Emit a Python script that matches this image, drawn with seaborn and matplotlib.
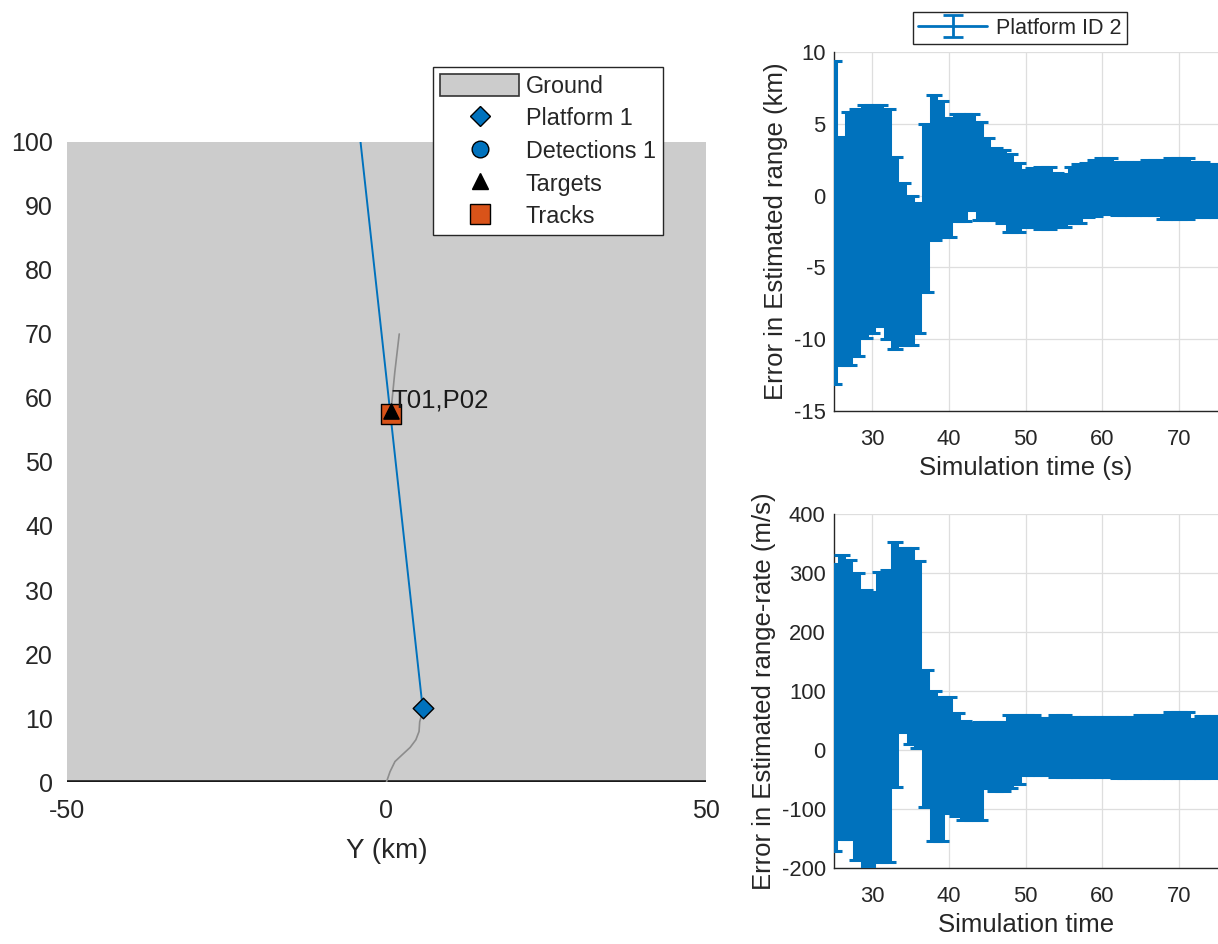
import numpy as np
import pandas as pd
import matplotlib
matplotlib.use("Agg")
import matplotlib.pyplot as plt
import seaborn as sns
from matplotlib.lines import Line2D
from matplotlib.patches import Patch, Rectangle

BLUE = "#0072BD"
ORANGE = "#D95319"
GROUND = "#cccccc"
INK = "#262626"

# theater plot (km), horizontal = Y, vertical = X
platform_track_y = [0.0, 0.55, 1.33, 2.4, 3.7, 4.6, 5.1, 5.2, 5.5, 5.67]
platform_track_x = [0.0, 1.6, 3.2, 4.2, 5.4, 6.6, 7.9, 9.4, 10.5, 11.5]
platform_pos = (5.67, 11.5)
beam_y = [5.67, -4.5]
beam_x = [11.5, 104.0]
target_track_y = [0.7, 1.3, 2.0]
target_track_x = [57.9, 64.0, 70.0]
target_pos = (0.7, 57.9)
track_pos = (0.7, 57.5)
track_label = "T01,P02"

# error plots
sim_time = list(range(25, 76))
range_err_upper = [9.4, 4.1, 5.8, 6.0, 6.3, 6.3, 6.3, 6.0, 2.7, 0.9,
                   0.0, -0.5, 5.0, 7.0, 6.6, 5.4, 5.7, 5.7, 5.7, 5.1,
                   4.0, 3.3, 3.2, 2.9, 2.25, 1.8, 1.9, 2.0, 2.0, 1.6,
                   1.5, 2.0, 2.2, 2.3, 2.5, 2.6, 2.6, 2.35, 2.35, 2.35,
                   2.35, 2.5, 2.5, 2.5, 2.6, 2.6, 2.6, 2.35, 2.35, 2.2,
                   2.2]
range_err_lower = [-13.1, -11.8, -11.8, -11.2, -9.9, -9.6, -9.1, -10.0, -10.7, -10.4,
                   -10.4, -9.6, -6.7, -3.1, -2.9, -2.9, -1.8, -1.8, -1.0, -1.7,
                   -1.7, -1.7, -1.9, -2.5, -2.5, -2.2, -2.2, -2.3, -2.3, -2.2,
                   -2.2, -1.9, -1.9, -1.5, -1.4, -1.25, -1.25, -1.35, -1.35, -1.35,
                   -1.35, -1.35, -1.35, -1.6, -1.6, -1.6, -1.6, -1.5, -1.5, -1.5,
                   -1.5]
rate_err_upper = [315, 330, 322, 300, 272, 268, 302, 305, 352, 342,
                  342, 320, 135, 100, 90, 90, 62, 50, 45, 48,
                  48, 48, 48, 59, 59, 59, 59, 55, 55, 60,
                  60, 56, 56, 56, 56, 56, 56, 56, 56, 56,
                  60, 60, 60, 60, 64, 64, 64, 53, 57, 57,
                  57]
rate_err_lower = [-172, -150, -150, -186, -205, -205, -190, -190, -62, 30,
                  10, 3, -96, -155, -155, -107, -112, -119, -119, -119,
                  -64, -70, -70, -65, -57, -42, -42, -42, -42, -45,
                  -45, -45, -46, -46, -46, -46, -46, -48, -48, -48,
                  -48, -48, -48, -48, -48, -48, -48, -48, -48, -48,
                  -45]

sns.set_style("white")
plt.rcParams['font.family'] = ['Liberation Sans', 'DejaVu Sans']
plt.rcParams['axes.unicode_minus'] = False
plt.rcParams['text.color'] = INK
plt.rcParams['axes.labelcolor'] = INK
plt.rcParams['xtick.color'] = INK
plt.rcParams['ytick.color'] = INK

fig = plt.figure(figsize=(12.18, 9.44), dpi=100)

# ---- theater plot ----
ax = fig.add_axes([0.055, 0.1716, 0.5246, 0.678])
ax.add_patch(Rectangle((-50, 0), 100, 100, facecolor=GROUND, edgecolor="none", zorder=0))
ax.axhline(0, color="#1a1a1a", lw=2.6, zorder=2)

sns.lineplot(x=platform_track_y, y=platform_track_x, sort=False, color="#8c8c8c",
             lw=1.2, ax=ax, zorder=3)
sns.lineplot(x=target_track_y, y=target_track_x, sort=False, color="#8c8c8c",
             lw=1.2, ax=ax, zorder=3)
sns.lineplot(x=beam_y, y=beam_x, sort=False, color=BLUE, lw=1.4, ax=ax, zorder=4)

ax.scatter([platform_pos[0]], [platform_pos[1]], marker="D", s=110, color=BLUE,
           edgecolor="black", linewidth=1.0, zorder=6)
ax.scatter([track_pos[0]], [track_pos[1]], marker="s", s=210, color=ORANGE,
           edgecolor="black", linewidth=1.0, zorder=6)
ax.scatter([target_pos[0]], [target_pos[1]], marker="^", s=120, color="black",
           zorder=7)
ax.annotate(track_label, xy=track_pos, xytext=(0, 5), textcoords="offset points",
            ha="left", va="baseline", fontsize=18.5, color="#1a1a1a", zorder=8)

ax.set_xlim(-50, 50)
ax.set_ylim(0, 100)
ax.set_xticks([-50, 0, 50])
ax.set_yticks(range(0, 101, 10))
ax.tick_params(axis="both", length=0, labelsize=18)
ax.tick_params(axis="y", pad=10)
ax.tick_params(axis="x", pad=12)
for s in ax.spines.values():
    s.set_visible(False)
ax.set_xlabel("Y (km)", fontsize=20, labelpad=11)

handles = [
    Patch(facecolor=GROUND, edgecolor="#333333", linewidth=1.2),
    Line2D([], [], ls="none", marker="D", ms=10, mfc=BLUE, mec="black"),
    Line2D([], [], ls="none", marker="o", ms=12, mfc=BLUE, mec="black"),
    Line2D([], [], ls="none", marker="^", ms=12, mfc="black", mec="black"),
    Line2D([], [], ls="none", marker="s", ms=14, mfc=ORANGE, mec="black"),
]
labels = ["Ground", "Platform 1", "Detections 1", "Targets", "Tracks"]
fig.legend(handles, labels, loc="upper right", bbox_to_anchor=(0.5443, 0.929),
           fontsize=16.8, frameon=True, fancybox=False, framealpha=1,
           facecolor="white", edgecolor="#262626",
           handlelength=3.4, handleheight=1.05, labelspacing=0.38,
           borderpad=0.3, handletextpad=0.28, borderaxespad=0)

# ---- error plots ----
err_df = pd.DataFrame({
    "time": sim_time,
    "rng_hi": range_err_upper, "rng_lo": range_err_lower,
    "rr_hi": rate_err_upper, "rr_lo": rate_err_lower,
})


def error_panel(axe, hi, lo, ylim, step, ylabel, xlabel):
    mid = (err_df[hi] + err_df[lo]) / 2
    half = (err_df[hi] - err_df[lo]) / 2
    axe.errorbar(err_df["time"], mid, yerr=half, color=BLUE, lw=1.5,
                 elinewidth=5.8, capsize=6, capthick=2.2, zorder=3)
    axe.set_xlim(25, 75.1)
    axe.set_ylim(*ylim)
    axe.set_xticks(range(30, 71, 10))
    axe.set_yticks(np.arange(ylim[0], ylim[1] + 1, step))
    axe.grid(True, color="#dedede", lw=0.9)
    axe.set_axisbelow(True)
    for side in ["top", "right"]:
        axe.spines[side].set_visible(False)
    for side in ["left", "bottom"]:
        axe.spines[side].set_color(INK)
        axe.spines[side].set_linewidth(1.0)
    axe.tick_params(direction="in", length=4, labelsize=15.8, pad=6)
    axe.tick_params(axis="x", pad=13)
    axe.set_ylabel(ylabel, fontsize=18.5, labelpad=4)
    axe.set_xlabel(xlabel, fontsize=18.5, labelpad=4)


ax1 = fig.add_axes([0.6847, 0.5646, 0.3153, 0.3803])
error_panel(ax1, "rng_hi", "rng_lo", (-15, 10), 5,
            "Error in Estimated range (km)", "Simulation time (s)")
proxy = ax1.errorbar([np.nan], [np.nan], yerr=[np.nan], color=BLUE, lw=2,
                     elinewidth=2, capsize=7, capthick=2)
ax1.legend([proxy], ["Platform ID 2"], loc="upper center",
           bbox_to_anchor=(0.8374, 0.987), bbox_transform=fig.transFigure,
           fontsize=15.5, frameon=True, fancybox=False, framealpha=1,
           edgecolor="#262626", handlelength=3.2, borderpad=0.25,
           handletextpad=0.4, borderaxespad=0)

ax2 = fig.add_axes([0.6847, 0.0805, 0.3153, 0.375])
error_panel(ax2, "rr_hi", "rr_lo", (-200, 400), 100,
            "Error in Estimated range-rate (m/s)", "Simulation time")

fig.savefig("out.png", dpi=100)
